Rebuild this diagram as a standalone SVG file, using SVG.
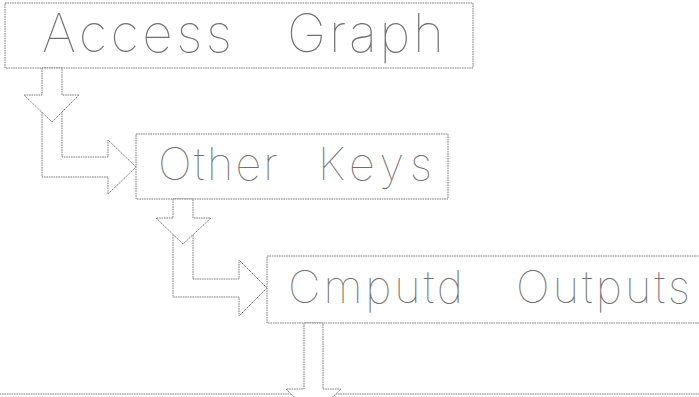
<svg xmlns="http://www.w3.org/2000/svg" width="699" height="397" viewBox="0 0 699 397">
<style>
.box{fill:#fff;stroke:#7a7a7a;stroke-width:1;stroke-dasharray:1.6 0.8}
.arr{fill:#fff;stroke:#7a7a7a;stroke-width:1;stroke-dasharray:1.6 0.8;stroke-linejoin:miter}
.lbl{font-family:Inter,"Open Sans","Liberation Sans",sans-serif;font-weight:100;fill:#707070}
</style>
<rect width="699" height="397" fill="#fff"/>
<g id="node-next">
<rect class="box" x="-10" y="394" width="720" height="60"/>
</g>
<g id="node-access-graph">
<rect class="box" x="5" y="3" width="468" height="65"/>
<text class="lbl" y="52" font-size="53"><tspan x="42" textLength="190" lengthAdjust="spacing">Access</tspan> <tspan x="287" textLength="157" lengthAdjust="spacing">Graph</tspan></text>
</g>
<g id="node-other-keys">
<rect class="box" x="136" y="134" width="312" height="65"/>
<text class="lbl" y="180" font-size="45"><tspan x="158" textLength="120" lengthAdjust="spacing">Other</tspan> <tspan x="318" textLength="114" lengthAdjust="spacing">Keys</tspan></text>
</g>
<g id="node-cmputd-outputs">
<rect class="box" x="267" y="256" width="443" height="67"/>
<text class="lbl" y="303" font-size="45"><tspan x="288" textLength="175" lengthAdjust="spacing">Cmputd</tspan> <tspan x="516" textLength="174" lengthAdjust="spacing">Outputs</tspan></text>
</g>
<g id="connectors">
<polygon class="arr" points="42,95 42,177 108,177 108,194 136,167 108,140 108,157 62,157 62,95"/>
<polygon class="arr" points="42,68 42,95 24,95 52,122 79,95 62,95 62,68"/>
<polygon class="arr" points="173,218 173,297 239,297 239,316 267,288 239,260 239,279 193,279 193,218"/>
<polygon class="arr" points="173,199 173,218 156,218 183,244 211,218 193,218 193,199"/>
<polygon class="arr" points="304,323 304,389 286,389 313,416 341,389 323,389 323,323"/>
</g>
</svg>
